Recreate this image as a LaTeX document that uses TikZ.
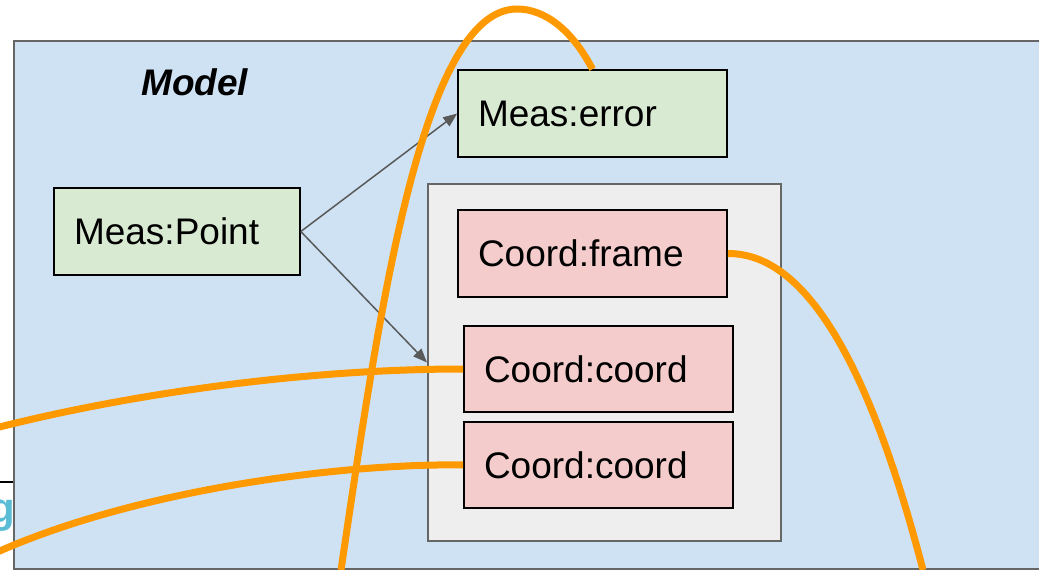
\documentclass[tikz,border=0pt]{standalone}
\usepackage{fontspec}
\setmainfont{Liberation Sans}
\usetikzlibrary{arrows.meta}
\definecolor{modelblue}{HTML}{CFE2F3}
\definecolor{measgreen}{HTML}{D9EAD3}
\definecolor{coordred}{HTML}{F4CCCC}
\definecolor{groupgray}{HTML}{EEEEEE}
\definecolor{framegray}{HTML}{666666}
\definecolor{arrowgray}{HTML}{595959}
\definecolor{linkorange}{HTML}{FF9900}
\definecolor{tagcyan}{HTML}{5BBCD6}
\begin{document}
\begin{tikzpicture}[x=1pt,y=-1pt,
  bigfont/.style={font=\fontsize{37}{44}\selectfont},
  entity/.style={draw=black, line width=1.6pt, bigfont, inner xsep=20pt,
    inner ysep=0pt, align=left, minimum height=87pt},
  measbox/.style={entity, fill=measgreen},
  coordbox/.style={entity, fill=coordred},
  relation/.style={draw=arrowgray, line width=1.5pt,
    -{Triangle[length=14pt,width=11pt]}},
  link/.style={draw=linkorange, line width=7pt}]
\useasboundingbox (0,0) rectangle (1039,570);
\clip (0,0) rectangle (1039,570);

% fragment of a neighbouring panel at the left edge
\coordinate (edgeL) at (0,482);
\coordinate (edgeR) at (14,482);
\draw[black, line width=2pt] (edgeL) -- (edgeR);
\node[anchor=base east, inner sep=0pt, text=tagcyan,
  font=\fontsize{42}{48}\selectfont\bfseries] (tag) at (15,522) {g};

% model frame
\node[draw=framegray, fill=modelblue, line width=2pt, minimum width=1036pt,
  minimum height=528pt, inner sep=0pt] (model) at (532,305) {};
\node[anchor=base west, inner sep=0pt, bigfont, font=\fontsize{37}{44}\selectfont\bfseries\itshape]
  (title) at (141,95) {Model};

% coordinate group
\node[draw=framegray, fill=groupgray, line width=2pt, minimum width=353pt,
  minimum height=357pt, inner sep=0pt] (group) at (604.5,362.5) {};

% entities
\node[measbox, minimum width=246pt, text width=206pt] (mpoint) at (177,231.5) {Meas:Point};
\node[measbox, minimum width=269pt, text width=229pt] (merror) at (592.5,113.5) {Meas:error};
\node[coordbox, minimum width=269pt, text width=229pt] (cframe) at (592.5,253.5) {Coord:frame};
\node[coordbox, minimum width=269pt, minimum height=86pt, text width=229pt] (ccoordA) at (598.5,369) {Coord:coord};
\node[coordbox, minimum width=269pt, minimum height=86pt, text width=229pt] (ccoordB) at (598.5,465) {Coord:coord};

% relations
\draw[relation] (mpoint.east) -- (merror.west);
\draw[relation] (mpoint.east) -- (group.west);

% links leaving the panel
\coordinate (apex) at (517,9);
\coordinate (outBottomL) at (341,570);
\coordinate (outBottomR) at (923,570);
\coordinate (outLeftA) at (-20,432);
\coordinate (outLeftB) at (-20,560);

\draw[link] (merror.north) .. controls (572,30) and (545,9) .. (apex)
  .. controls (421,9) and (378,320) .. (outBottomL);
\draw[link] (cframe.east) .. controls (808,253) and (871,370) .. (outBottomR);
\draw[link] (ccoordA.west) .. controls (300,369) and (120,395) .. (outLeftA);
\draw[link] (ccoordB.west) .. controls (350,463) and (130,488) .. (outLeftB);
\end{tikzpicture}
\end{document}
